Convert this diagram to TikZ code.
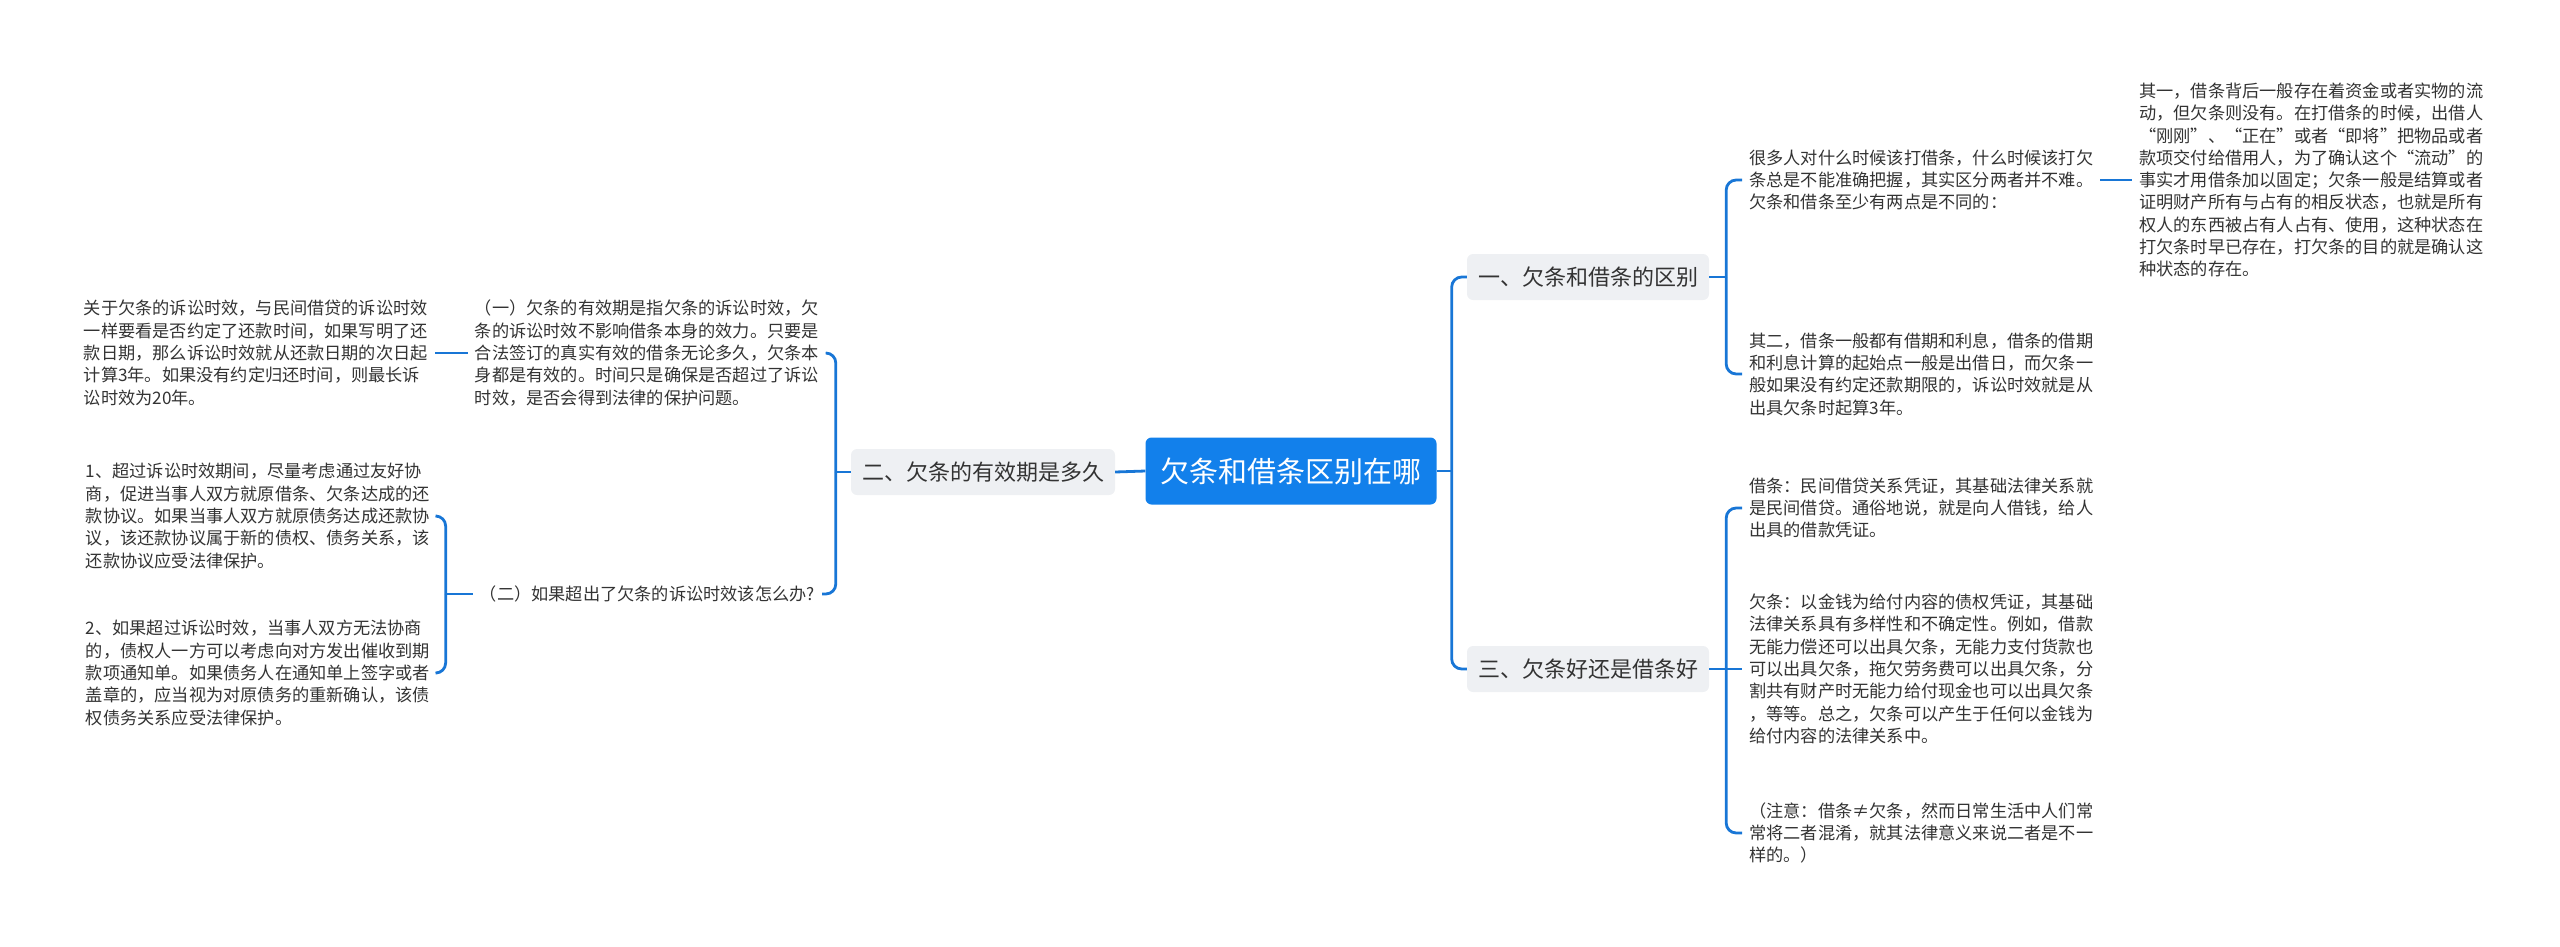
\documentclass[tikz,border=0pt]{standalone}
\usepackage{fontspec}
\setmainfont{Noto Sans CJK SC}
\definecolor{mapblue}{RGB}{24,118,214}
\definecolor{rootblue}{RGB}{18,128,235}
\definecolor{topicgray}{RGB}{238,240,243}
\definecolor{leaftext}{RGB}{51,51,51}

\begin{document}
\begin{tikzpicture}[x=1pt, y=-1pt,
    rootbox/.style={fill=rootblue, rounded corners=6pt, text=white,
        font=\fontsize{29}{34}\selectfont, minimum width=291pt,
        minimum height=67pt, inner sep=0pt},
    topicbox/.style={fill=topicgray, rounded corners=6pt, text=leaftext,
        font=\fontsize{22}{26}\selectfont, minimum height=46pt, inner xsep=11pt},
    leaf/.style={text=leaftext, font=\fontsize{17.2}{22.3}\selectfont,
        align=left, inner xsep=7pt, inner ysep=2pt},
    wideleaf/.style={leaf, text width=344pt},
    link/.style={draw=mapblue, line width=2.8pt, rounded corners=10pt}]

    \useasboundingbox (0,0) rectangle (2560,946);

    %% Root and main topics
    \node[rootbox] (root) at (1291,471) {欠条和借条区别在哪};
    \node[topicbox] (t1) at (1588,277) {一、欠条和借条的区别};
    \node[topicbox] (t2) at (983,472) {二、欠条的有效期是多久};
    \node[topicbox] (t3) at (1588,669) {三、欠条好还是借条好};

    %% Right side: topic one
    \node[wideleaf, anchor=west] (la) at (1742,180) {很多人对什么时候该打借条，什么时候该打欠\\条总是不能准确把握，其实区分两者并不难。\\欠条和借条至少有两点是不同的：};
    \node[wideleaf, anchor=west] (qy) at (2132,180) {其一，借条背后一般存在着资金或者实物的流\\动，但欠条则没有。在打借条的时候，出借人\\“刚刚”、“正在”或者“即将”把物品或者\\款项交付给借用人，为了确认这个“流动”的\\事实才用借条加以固定；欠条一般是结算或者\\证明财产所有与占有的相反状态，也就是所有\\权人的东西被占有人占有、使用，这种状态在\\打欠条时早已存在，打欠条的目的就是确认这\\种状态的存在。};
    \node[wideleaf, anchor=west] (lb) at (1742,374) {其二，借条一般都有借期和利息，借条的借期\\和利息计算的起始点一般是出借日，而欠条一\\般如果没有约定还款期限的，诉讼时效就是从\\出具欠条时起算3年。};

    %% Right side: topic three
    \node[wideleaf, anchor=west] (lj) at (1742,508) {借条：民间借贷关系凭证，其基础法律关系就\\是民间借贷。通俗地说，就是向人借钱，给人\\出具的借款凭证。};
    \node[wideleaf, anchor=west] (lq) at (1742,669) {欠条：以金钱为给付内容的债权凭证，其基础\\法律关系具有多样性和不确定性。例如，借款\\无能力偿还可以出具欠条，无能力支付货款也\\可以出具欠条，拖欠劳务费可以出具欠条，分\\割共有财产时无能力给付现金也可以出具欠条\\，等等。总之，欠条可以产生于任何以金钱为\\给付内容的法律关系中。};
    \node[wideleaf, anchor=west] (lz) at (1742,833) {（注意：借条≠欠条，然而日常生活中人们常\\常将二者混淆，就其法律意义来说二者是不一\\样的。）};

    %% Left side: topic two
    \node[wideleaf, anchor=east] (yi) at (826,353) {（一）欠条的有效期是指欠条的诉讼时效，欠\\条的诉讼时效不影响借条本身的效力。只要是\\合法签订的真实有效的借条无论多久，欠条本\\身都是有效的。时间只是确保是否超过了诉讼\\时效，是否会得到法律的保护问题。};
    \node[wideleaf, anchor=east] (gy) at (435,353) {关于欠条的诉讼时效，与民间借贷的诉讼时效\\一样要看是否约定了还款时间，如果写明了还\\款日期，那么诉讼时效就从还款日期的次日起\\计算3年。如果没有约定归还时间，则最长诉\\讼时效为20年。};
    \node[leaf, anchor=east] (er) at (822,594) {（二）如果超出了欠条的诉讼时效该怎么办?};
    \node[wideleaf, anchor=east] (c1) at (437,516) {1、超过诉讼时效期间，尽量考虑通过友好协\\商，促进当事人双方就原借条、欠条达成的还\\款协议。如果当事人双方就原债务达成还款协\\议，该还款协议属于新的债权、债务关系，该\\还款协议应受法律保护。};
    \node[wideleaf, anchor=east] (c2) at (437,673) {2、如果超过诉讼时效，当事人双方无法协商\\的，债权人一方可以考虑向对方发出催收到期\\款项通知单。如果债务人在通知单上签字或者\\盖章的，应当视为对原债务的重新确认，该债\\权债务关系应受法律保护。};

    %% Connectors
    % root to right topics
    \coordinate (rt) at ([xshift=15pt]root.east);
    \draw[link] (root.east) -- (rt);
    \draw[link] (rt) |- (t1.west);
    \draw[link] (rt) |- (t3.west);

    % topic one to its leaves
    \coordinate (r1) at ([xshift=17pt]t1.east);
    \draw[link] (t1.east) -- (r1);
    \draw[link] (r1) |- (la.west);
    \draw[link] (r1) |- (lb.west);
    \draw[link] (la.east) -- (qy.west);

    % topic three to its leaves
    \coordinate (r3) at ([xshift=17pt]t3.east);
    \draw[link] (t3.east) -- (r3);
    \draw[link] (r3) |- (lj.west);
    \draw[link] (r3) -- (lq.west);
    \draw[link] (r3) |- (lz.west);

    % root to topic two and its leaves
    \draw[link] (root.west) -- (t2.east);
    \coordinate (lt) at ([xshift=-15pt]t2.west);
    \draw[link] (t2.west) -- (lt);
    \draw[link] (lt) |- (yi.east);
    \draw[link] (lt) |- (er.east);
    \draw[link] (yi.west) -- (gy.east);

    % question two to its answers
    \coordinate (et) at ([xshift=-27pt]er.west);
    \draw[link] (er.west) -- (et);
    \draw[link] (et) |- (c1.east);
    \draw[link] (et) |- (c2.east);

\end{tikzpicture}
\end{document}
